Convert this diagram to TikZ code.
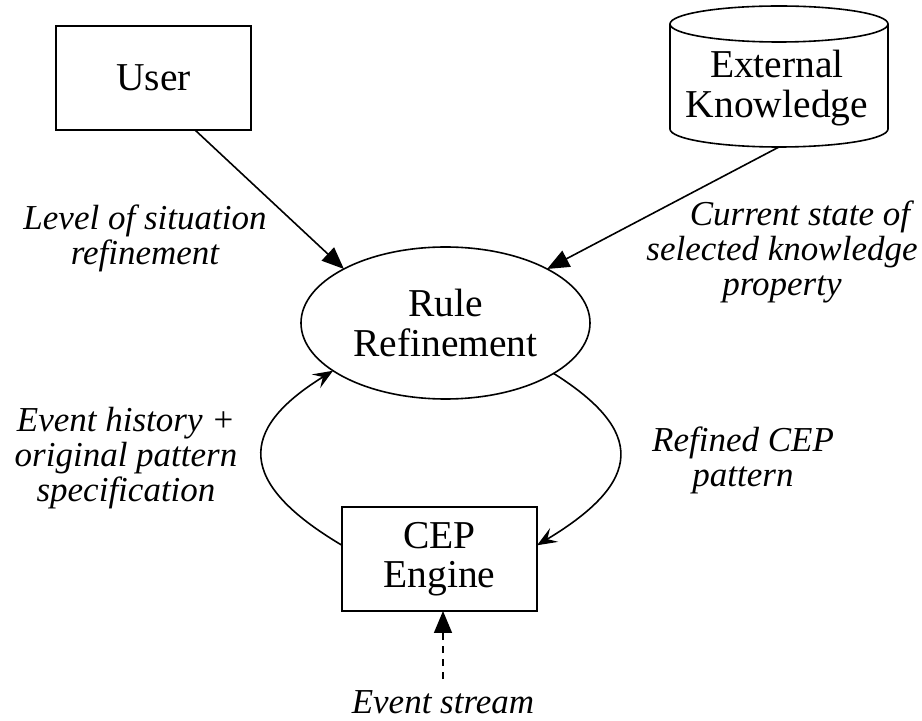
\documentclass[tikz,border=0pt]{standalone}
\usepackage{fontspec}
\setmainfont{Liberation Serif}
\usetikzlibrary{shapes.geometric,arrows.meta,calc}

\begin{document}
\begin{tikzpicture}[x=0.5pt,y=-0.5pt,
  every node/.style={inner sep=0pt, outer sep=0pt},
  lw/.style={line width=0.8pt},
  nodefont/.style={font=\fontsize{19.75pt}{19.75pt}\selectfont},
  box/.style={draw, lw, rectangle, minimum width=97.5pt, minimum height=52pt, nodefont, align=center},
  oval/.style={draw, lw, ellipse, minimum width=144.5pt, minimum height=76pt, nodefont, align=center},
  lbl/.style={font=\fontsize{17.5pt}{17.5pt}\selectfont\itshape, align=center},
  solidarrow/.style={lw, -{Triangle[length=11pt,width=9pt]}},
  looparrow/.style={lw, -{Stealth[length=10pt,width=8pt,inset=4pt]}},
]
\useasboundingbox (0,0) rectangle (922,721);

% nodes
\node[box] (user) at (153.5,78) {User};
\node[oval] (rule) at (445.5,323) {Rule\\Refinement};
\node[box] (cep) at (439.5,559) {CEP\\Engine};

% external knowledge store drawn as a cylinder
\draw[lw] (779,24) ellipse [x radius=54.5pt, y radius=9pt];
\draw[lw] (670,24) -- (670,129) arc[start angle=180, end angle=360, x radius=54.5pt, y radius=9pt] -- (888,24);
\node[nodefont, align=center] (ext) at (777,88) {External\\Knowledge};
\coordinate (extbot) at (779,147);

% edge labels
\node[lbl] (l1) at (145,238) {Level of situation\\refinement};
\node[lbl] (l2) at (782,252) {\hspace*{18pt}Current state of\\selected knowledge\\property};
\node[lbl] (l3) at (126,458) {Event history +\\original pattern\\specification};
\node[lbl] (l4) at (743,460) {Refined CEP\\pattern};
\node[lbl, anchor=base] (stream) at (443,713) {Event stream};

% connectors
\draw[solidarrow] ($(user.south east)+(-56,0)$) -- (rule.152);
\draw[solidarrow] (extbot) -- (rule.28);
\draw[looparrow] (cep.172) .. controls (237,483) and (237,430) .. (rule.203);
\draw[looparrow] (rule.335) .. controls (645,431) and (644,481) .. (cep.8);
\draw[solidarrow, dash pattern=on 3.5pt off 3pt] ([yshift=5.5pt]stream.north) -- (stream.north |- cep.south);
\end{tikzpicture}
\end{document}
